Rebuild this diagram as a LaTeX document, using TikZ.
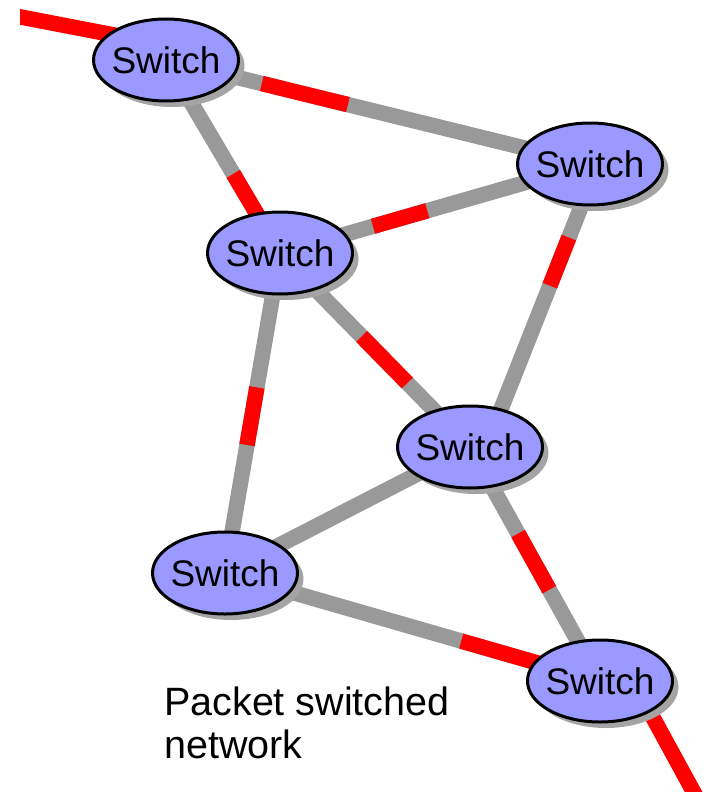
\documentclass[tikz,border=0pt]{standalone}
\usepackage{fontspec}
\setmainfont{Liberation Sans}
\usetikzlibrary{shapes.geometric,shadows,calc}
\definecolor{switchfill}{HTML}{9999FF}
\definecolor{linkgray}{HTML}{999999}
\definecolor{pathred}{HTML}{FF0000}
\definecolor{shadowgray}{HTML}{A4A4A4}
\pgfdeclarelayer{links}
\pgfsetlayers{links,main}
\begin{document}
\begin{tikzpicture}[x=1pt,y=-1pt,
  switch/.style={ellipse, draw=black, line width=3pt, fill=switchfill,
    minimum width=145pt, minimum height=82pt, inner xsep=-6pt, inner ysep=0pt,
    font=\fontsize{37}{40}\selectfont, text=black,
    drop shadow={shadow xshift=6pt, shadow yshift=-6pt, fill=shadowgray, opacity=1}},
  link/.style={draw=linkgray, line width=15.5pt},
  hot/.style={draw=pathred, line width=15.5pt}]
\useasboundingbox (0,0) rectangle (710,792);

% switches
\node[switch] (A) at (166,60)  {Switch};
\node[switch] (B) at (590,164) {Switch};
\node[switch] (C) at (280,253) {Switch};
\node[switch] (D) at (470,447) {Switch};
\node[switch] (E) at (225,573) {Switch};
\node[switch] (F) at (600,681) {Switch};

\node[anchor=north west, align=left, inner sep=0pt,
      font=\fontsize{39.5}{43}\selectfont] (caption) at (164,687)
      {Packet switched\\network};

\begin{pgfonlayer}{links}
  % trunk lines between switches
  \draw[link] (A.center) -- (B.center);
  \draw[link] (A.center) -- (C.center);
  \draw[link] (C.center) -- (B.center);
  \draw[link] ($(B.center)+(8,0)$) -- ($(D.center)+(16,0)$);
  \draw[link] (C.center) -- (D.center);
  \draw[link] (C.center) -- (E.center);
  \draw[link] (D.center) -- (E.center);
  \draw[link] (E.center) -- (F.center);
  \draw[link] (D.center) -- (F.center);

  % packets in transit
  \draw[hot] ($(A.center)!0.226!(B.center)$) -- ($(A.center)!0.429!(B.center)$);
  \draw[hot] ($(A.center)!0.59!(C.center)$) -- ($(A.center)!0.85!(C.center)$);
  \draw[hot] ($(C.center)!0.30!(B.center)$) -- ($(C.center)!0.475!(B.center)$);
  \draw[hot] ($($(B.center)+(8,0)$)!0.26!($(D.center)+(16,0)$)$) --
             ($($(B.center)+(8,0)$)!0.43!($(D.center)+(16,0)$)$);
  \draw[hot] ($(C.center)!0.43!(D.center)$) -- ($(C.center)!0.67!(D.center)$);
  \draw[hot] ($(C.center)!0.42!(E.center)$) -- ($(C.center)!0.60!(E.center)$);
  \draw[hot] ($(E.center)!0.63!(F.center)$) -- ($(E.center)!0.85!(F.center)$);
  \draw[hot] ($(D.center)!0.37!(F.center)$) -- ($(D.center)!0.61!(F.center)$);

  % incoming and outgoing traffic
  \begin{scope}
    \clip (20,0) rectangle (710,792);
    \draw[hot] (0,13) -- ($(A.center)+(0,-15)$);
  \end{scope}
  \coordinate (exit) at (698,800);
  \draw[hot] ($(F.center)+(33,0)$) -- (exit);
\end{pgfonlayer}
\end{tikzpicture}
\end{document}
